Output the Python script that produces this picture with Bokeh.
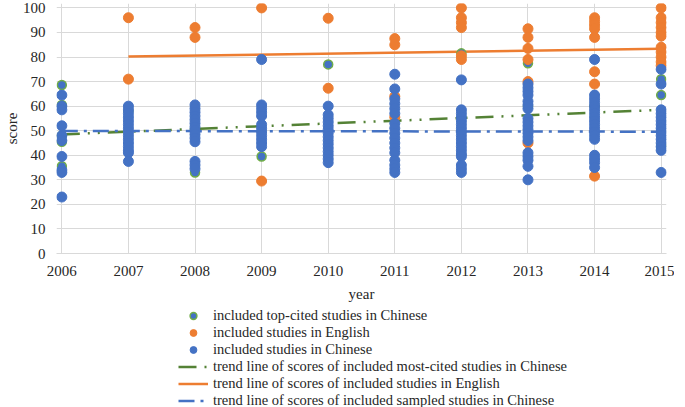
from bokeh.plotting import figure
from bokeh.layouts import column
from bokeh.models import Legend, LegendItem, FixedTicker, Range1d
from bokeh.embed import file_html
from bokeh.resources import INLINE

years = [2006, 2007, 2008, 2009, 2010, 2011, 2012, 2013, 2014, 2015]

# included studies in Chinese (blue)
cn_scores = {
    2006: [64.5, 60, 58.5, 52, 48, 46, 39.5, 34, 33, 23],
    2007: [60, 58.5, 57, 55.5, 54, 52.5, 51, 49.5, 48, 46.5, 45, 43.5, 42, 41, 37.5],
    2008: [60.5, 59, 57.5, 56, 54.5, 53, 51.5, 50, 48.5, 47, 45.5, 37.5, 36, 34.5],
    2009: [79, 60.5, 59, 57.5, 56, 52.5, 51, 49.5, 48, 46.5, 45, 43.5],
    2010: [60, 56.5, 55, 53.5, 52, 50.5, 49, 47.5, 46, 44.5, 43, 41.5, 40, 38.5, 37],
    2011: [73, 67, 63, 61, 59, 57, 53, 51, 49, 47, 45, 43, 41, 38, 36, 34.5, 33],
    2012: [70.7, 58.5, 57, 55.5, 54, 52.5, 51, 49.5, 48, 46.5, 45, 43.5, 42, 40.5, 39.5, 36, 34.5, 33],
    2013: [69, 67.5, 66, 64.5, 62, 60.5, 59, 55, 53.5, 52, 50.5, 49, 47.5, 46, 41, 39.5, 38, 35.5, 30],
    2014: [79, 64.5, 63, 61.5, 60, 58.5, 57, 55.5, 54, 52.5, 51, 49.5, 48, 46.5, 40, 38.5, 37, 35],
    2015: [75, 69, 58.5, 57, 55.5, 54, 52.5, 51, 49.5, 48, 46.5, 45, 43.5, 42, 33],
}

# included studies in English (orange)
en_scores = {
    2007: [96, 71],
    2008: [92, 88],
    2009: [100, 29.5],
    2010: [95.8, 67.3],
    2011: [87.5, 85, 64, 55.5],
    2012: [100, 96, 94, 92, 80.5, 79],
    2013: [91.5, 88, 83.5, 79, 70, 45],
    2014: [96, 94.5, 93, 91.5, 88, 74, 69, 31.5],
    2015: [100, 96, 94, 92, 90, 88.5, 84, 82, 80, 78, 76.5],
}

# included top-cited studies in Chinese (green ring)
top_scores = {
    2006: [68.6, 60.5, 48, 45.5, 35.5],
    2007: [58],
    2008: [33],
    2009: [39.5],
    2010: [77],
    2012: [81.5],
    2013: [77.5, 60],
    2014: [60],
    2015: [71, 64.5, 44],
}

# trend lines (end points)
trend_top_years = [2006, 2015]
trend_top_vals = [48.5, 58.5]
trend_en_years = [2007, 2015]
trend_en_vals = [80.2, 83.4]
trend_cn_years = [2006, 2015]
trend_cn_vals = [49.9, 49.6]

y_ticks = [0, 10, 20, 30, 40, 50, 60, 70, 80, 90, 100]

legend_labels = [
    "included top-cited studies in Chinese",
    "included studies in English",
    "included studies in Chinese",
    "trend line of scores of included most-cited studies in Chinese",
    "trend line of scores of included studies in English",
    "trend line of scores of included sampled studies in Chinese",
]

BLUE = "#4472C4"
ORANGE = "#ED7D31"
GREEN = "#70AD47"
DKGREEN = "#548235"
FONT = "Liberation Serif"
TXT = "#262626"

TOP_STYLE = dict(fill_color=BLUE, line_color=GREEN, line_width=1.5)
EN_STYLE = dict(fill_color=ORANGE, line_color=ORANGE)
CN_STYLE = dict(fill_color=BLUE, line_color=BLUE)
TT_STYLE = dict(line_color=DKGREEN, line_width=2.5, line_dash="18 8 2 8 2 8")
TE_STYLE = dict(line_color=ORANGE, line_width=2.5)
TC_STYLE = dict(line_color=BLUE, line_width=2.5, line_dash="16 6 3 6")


def flat(d):
    xs, ys = [], []
    for k, vals in d.items():
        for v in vals:
            xs.append(k)
            ys.append(v)
    return xs, ys


p = figure(frame_width=610, frame_height=250, output_backend="svg", toolbar_location=None,
           x_range=Range1d(2005.92, 2015.08), y_range=Range1d(0, 101.8),
           min_border_left=30, min_border_right=8, min_border_top=3, min_border_bottom=0)
p.outline_line_color = None

p.xgrid.grid_line_color = "#d9d9d9"
p.ygrid.grid_line_color = "#d9d9d9"
p.xaxis.ticker = FixedTicker(ticks=years)
p.yaxis.ticker = FixedTicker(ticks=y_ticks)
for ax in (p.xaxis, p.yaxis):
    ax.major_tick_line_color = None
    ax.minor_tick_line_color = None
    ax.major_label_text_font = FONT
    ax.major_label_text_font_size = "15px"
    ax.major_label_text_color = TXT
    ax.axis_label_text_font = FONT
    ax.axis_label_text_font_size = "15px"
    ax.axis_label_text_font_style = "normal"
    ax.axis_label_text_color = TXT
p.yaxis.axis_line_color = None
p.xaxis.axis_line_color = "#d9d9d9"
p.yaxis.major_label_standoff = 5
p.xaxis.major_label_standoff = 6
p.xaxis.axis_label = "year"
p.xaxis.axis_label_standoff = 7
p.yaxis.axis_label = "score"
p.yaxis.axis_label_standoff = 0

p.line(trend_top_years, trend_top_vals, **TT_STYLE)
p.line(trend_en_years, trend_en_vals, **TE_STYLE)
p.line(trend_cn_years, trend_cn_vals, **TC_STYLE)

tx, ty = flat(top_scores)
p.scatter(tx, ty, size=9, **TOP_STYLE)
ex, ey = flat(en_scores)
p.scatter(ex, ey, size=10, **EN_STYLE)
cx, cy = flat(cn_scores)
p.scatter(cx, cy, size=10, **CN_STYLE)

# legend panel below the chart (legend glyphs come from off-range sample renderers)
lf = figure(width=664, height=105, output_backend="svg", toolbar_location=None,
            x_axis_type=None, y_axis_type=None, min_border=0,
            x_range=Range1d(0, 1), y_range=Range1d(0, 1))
lf.outline_line_color = None
lf.xgrid.visible = False
lf.ygrid.visible = False
g1 = lf.scatter([-5], [-5], size=10, **TOP_STYLE)
g2 = lf.scatter([-5], [-5], size=10, **EN_STYLE)
g3 = lf.scatter([-5], [-5], size=10, **CN_STYLE)
g4 = lf.line([-5, -4], [-5, -5], **TT_STYLE)
g5 = lf.line([-5, -4], [-5, -5], **TE_STYLE)
g6 = lf.line([-5, -4], [-5, -5], **TC_STYLE)
legend = Legend(items=[LegendItem(label=lab, renderers=[r]) for lab, r in
                       zip(legend_labels, [g1, g2, g3, g4, g5, g6])],
                location=(122, 0), orientation="vertical", border_line_color=None,
                background_fill_alpha=0,
                label_text_font=FONT, label_text_font_size="14.5px", label_text_color=TXT,
                glyph_width=30, glyph_height=17, label_height=17, spacing=0, padding=0, margin=0,
                label_standoff=5)
lf.add_layout(legend, "center")

layout = column(p, lf, spacing=0)
open("out.html", "w").write(file_html(layout, INLINE))
